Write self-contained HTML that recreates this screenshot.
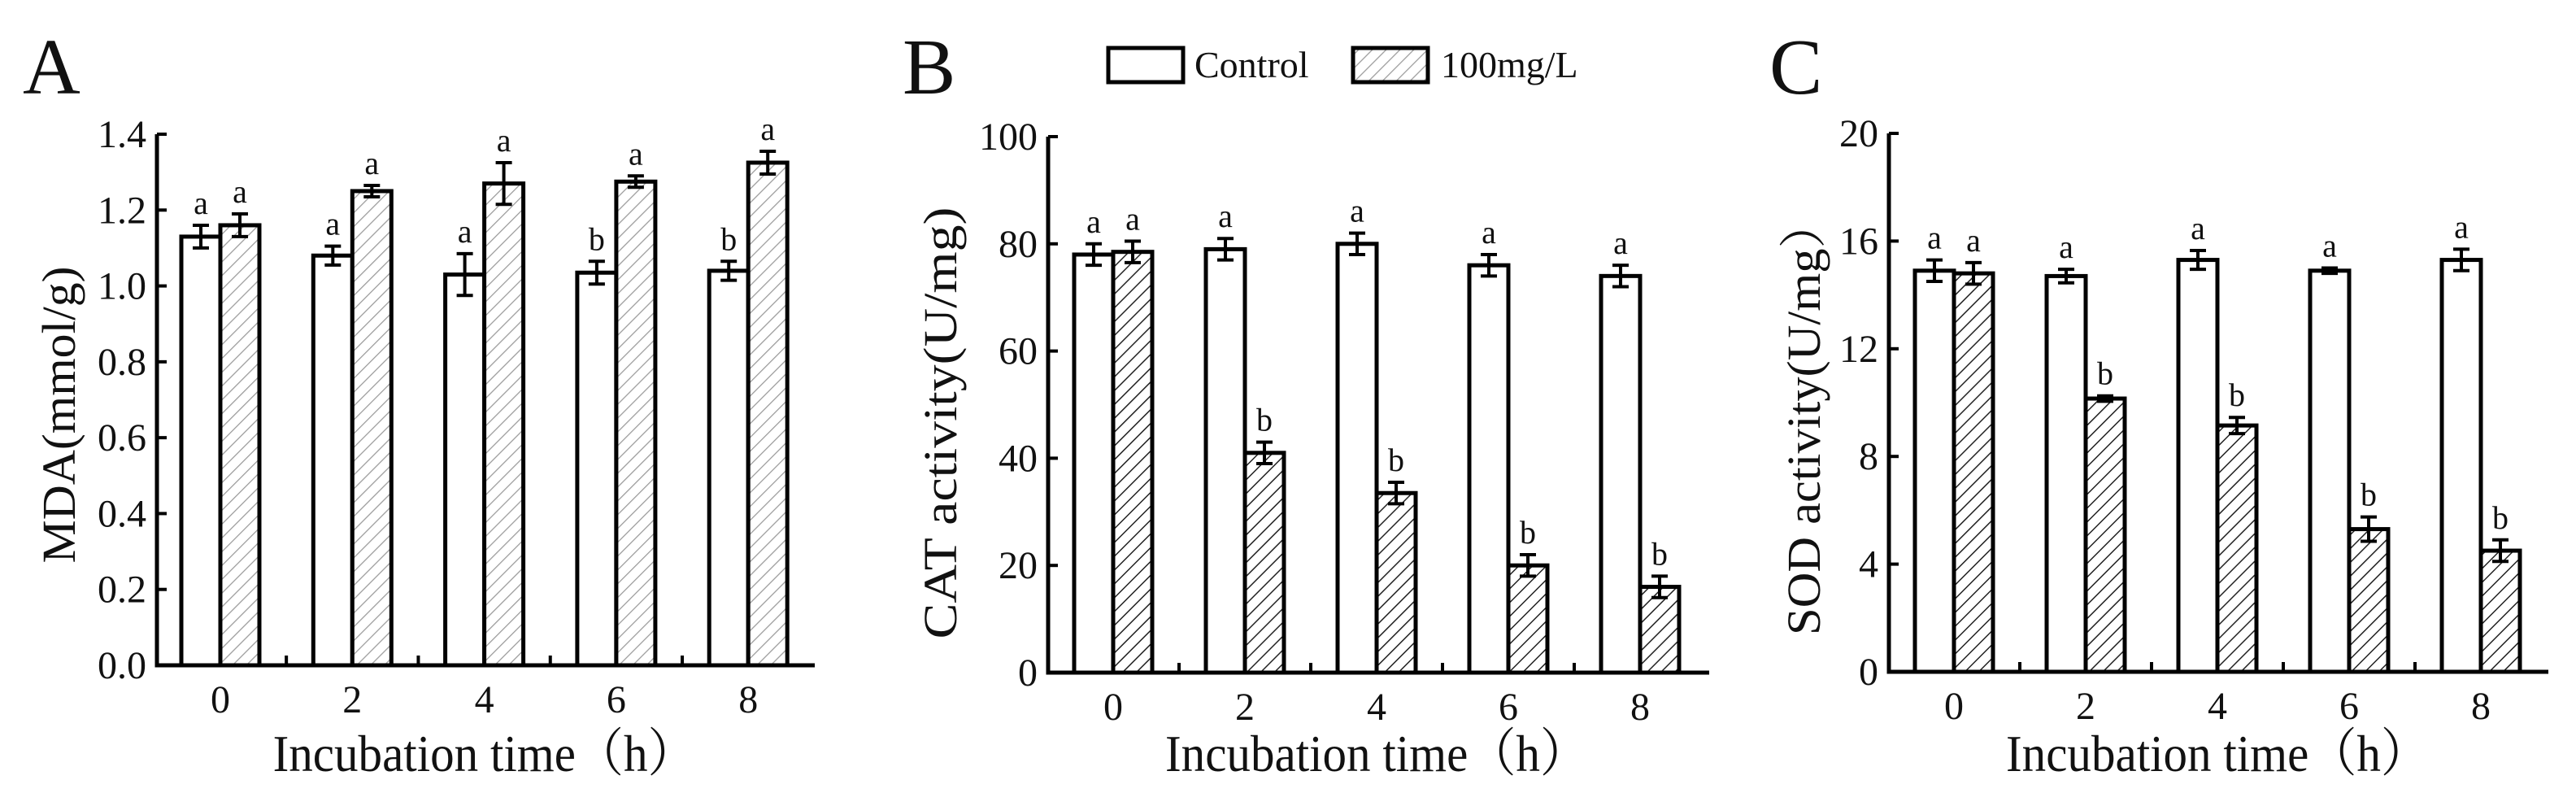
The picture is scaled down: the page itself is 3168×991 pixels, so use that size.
<!DOCTYPE html>
<html><head><meta charset="utf-8"><style>
html,body{margin:0;padding:0;background:#fff}
svg{display:block}
text{font-family:"Liberation Serif","Noto Serif CJK SC",serif;fill:#111}
</style></head><body>
<svg id="fig" width="3168" height="991" viewBox="0 0 3168 991" xmlns="http://www.w3.org/2000/svg">
<defs>
<pattern id="hatchLight" patternUnits="userSpaceOnUse" width="12" height="12" patternTransform="rotate(45)"><rect width="12" height="12" fill="#fff"/><line x1="0" y1="0" x2="0" y2="12" stroke="#9a9a9a" stroke-width="2.5"/></pattern>
<pattern id="hatchDark" patternUnits="userSpaceOnUse" width="12" height="12" patternTransform="rotate(45)"><rect width="12" height="12" fill="#fff"/><line x1="0" y1="0" x2="0" y2="12" stroke="#222" stroke-width="3"/></pattern>
</defs>
<g>
<rect x="1363" y="59" width="92" height="42" fill="#fff" stroke="#000" stroke-width="5"/>
<text x="1469" y="95" font-size="46">Control</text>
<rect x="1664" y="59" width="92" height="42" fill="url(#hatchLight)" stroke="#000" stroke-width="5"/>
<text x="1772" y="95" font-size="46">100mg/L</text>
</g>
</svg>
<script>
const categories = ["0","2","4","6","8"];
const mdaControl = [1.13,1.08,1.03,1.035,1.04];
const mdaControlErr = [0.03,0.025,0.055,0.03,0.025];
const mdaTreat = [1.16,1.25,1.27,1.275,1.325];
const mdaTreatErr = [0.03,0.015,0.055,0.015,0.03];
const mdaCtrlLetters = ["a","a","a","b","b"];
const mdaTreatLetters = ["a","a","a","a","a"];
const mdaTicks = ["0.0","0.2","0.4","0.6","0.8","1.0","1.2","1.4"];
const catControl = [78,79,80,76,74];
const catControlErr = [2,2,2,2,2];
const catTreat = [78.5,41,33.5,20,16];
const catTreatErr = [2,2,2,2,2];
const catCtrlLetters = ["a","a","a","a","a"];
const catTreatLetters = ["a","b","b","b","b"];
const catTicks = ["0","20","40","60","80","100"];
const sodControl = [14.9,14.7,15.3,14.9,15.3];
const sodControlErr = [0.4,0.25,0.35,0.1,0.4];
const sodTreat = [14.8,10.15,9.15,5.3,4.5];
const sodTreatErr = [0.4,0.1,0.3,0.45,0.4];
const sodCtrlLetters = ["a","a","a","a","a"];
const sodTreatLetters = ["a","b","b","b","b"];
const sodTicks = ["0","4","8","12","16","20"];

const NS="http://www.w3.org/2000/svg";
const svg=document.getElementById('fig');
function mk(tag,attrs,parent){const e=document.createElementNS(NS,tag);for(const k in attrs)e.setAttribute(k,attrs[k]);(parent||svg).appendChild(e);return e;}

function panel(o){
  const g=mk('g',{});
  
  
  const ymax=o.yMax;
  const y=v=>o.y0-(v/ymax)*(o.y0-o.yTop);
  const xc=i=>o.x0+o.first+o.step*i;
  const bw=48;
  for(let i=0;i<categories.length;i++){
    const c=xc(i);
    const series=[[o.ctrl,o.ctrlErr,o.ctrlL,'#fff',c-bw,'control'],[o.trt,o.trtErr,o.trtL,o.hatch,c,'treatment']];
    series.forEach(s=>{
      const v=s[0][i],e=s[1][i];
      const r=mk('rect',{x:s[4],y:y(v),width:bw,height:o.y0-y(v),fill:s[3],stroke:'#000','stroke-width':5},g);
      
      
      const m=s[4]+bw/2;
      const eb=mk('path',{d:`M${m},${y(v+e)}V${y(v-e)}M${m-10},${y(v+e)}H${m+10}M${m-10},${y(v-e)}H${m+10}`,stroke:'#000','stroke-width':4,fill:'none'},g);
      
      
      const t=mk('text',{x:m,y:y(v+e)-14,'text-anchor':'middle','font-size':40},g);
      t.textContent=s[2][i];
      
      
    });
    const xl=mk('text',{x:c,y:o.y0+58,'text-anchor':'middle','font-size':48},g);
    xl.textContent=categories[i];
    
    
    if(i>0){
      const mt=mk('line',{x1:c-o.step/2,x2:c-o.step/2,y1:o.y0,y2:o.y0-12,stroke:'#000','stroke-width':4},g);
      
      
    }
  }
  const ax=mk('path',{d:`M${o.x0},${o.yTop}V${o.y0}H${o.x1}`,stroke:'#000','stroke-width':5,fill:'none'},g);
  
  
  const n=o.ticks.length-1;
  o.ticks.forEach((lab,k)=>{
    const yy=y(ymax*k/n);
    const tk=mk('line',{x1:o.x0,x2:o.x0+12,y1:yy,y2:yy,stroke:'#000','stroke-width':4},g);
    
    
    const tl=mk('text',{x:o.x0-13,y:yy+16,'text-anchor':'end','font-size':48},g);
    tl.textContent=lab;
    
    
  });
  const yt=mk('text',{x:0,y:0,'text-anchor':'middle','font-size':58,textLength:o.ytLen,lengthAdjust:'spacingAndGlyphs',transform:`translate(${o.ytX},${o.ytY}) rotate(-90)`},g);
  yt.textContent=o.ytitle;
  
  
  const xt=mk('text',{x:xc(2),y:948,'text-anchor':'middle','font-size':64,textLength:520,lengthAdjust:'spacingAndGlyphs'},g);
  xt.textContent='Incubation time（h）';
  
  
  const pl=mk('text',{x:o.letterX,y:115,'font-size':98},g);
  pl.textContent=o.id;
  
  
}
panel({id:'A',x0:193,x1:1002,first:78,step:162.3,y0:818,yTop:165,yMax:1.4,ctrl:mdaControl,ctrlErr:mdaControlErr,trt:mdaTreat,trtErr:mdaTreatErr,ctrlL:mdaCtrlLetters,trtL:mdaTreatLetters,ticks:mdaTicks,hatch:'url(#hatchLight)',ytitle:'MDA(mmol/g)',ytX:92,ytY:510,ytLen:365,letterX:28});
panel({id:'B',x0:1289,x1:2102,first:80,step:162,y0:827,yTop:168,yMax:100,ctrl:catControl,ctrlErr:catControlErr,trt:catTreat,trtErr:catTreatErr,ctrlL:catCtrlLetters,trtL:catTreatLetters,ticks:catTicks,hatch:'url(#hatchDark)',ytitle:'CAT activity(U/mg)',ytX:1176,ytY:520,ytLen:531,letterX:1110});
panel({id:'C',x0:2323,x1:3134,first:80,step:162,y0:826,yTop:164,yMax:20,ctrl:sodControl,ctrlErr:sodControlErr,trt:sodTreat,trtErr:sodTreatErr,ctrlL:sodCtrlLetters,trtL:sodTreatLetters,ticks:sodTicks,hatch:'url(#hatchDark)',ytitle:'SOD activity(U/mg）',ytX:2238,ytY:513,ytLen:536,letterX:2176});
</script>
</body></html>
